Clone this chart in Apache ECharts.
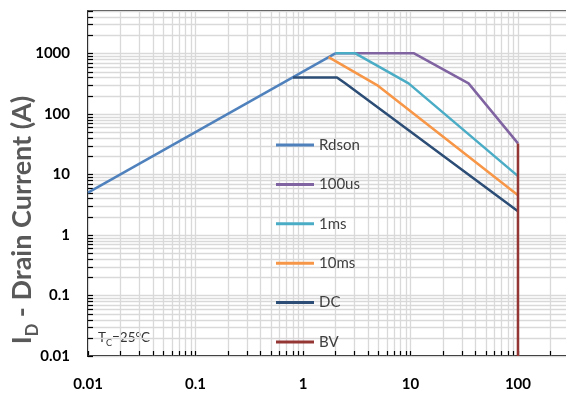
<!DOCTYPE html>
<html>
<head>
<meta charset="utf-8">
<script src="https://cdn.jsdelivr.net/npm/echarts@6/dist/echarts.min.js"></script>
<style>
html,body{margin:0;padding:0;background:#fff;}
#chart{width:566px;height:394px;}
</style>
</head>
<body>
<div id="chart"></div>
<script>
// ---- data (V in volts, I in amps) ----
const seriesNames = ['Rdson', '100us', '1ms', '10ms', 'DC', 'BV'];
const rdson = [[0.01, 5], [2, 1000]];
const us100 = [[2, 1000], [10.8, 1000], [34.7, 319], [100, 32.5]];
const ms1 = [[2, 1000], [3.07, 1000], [9.6, 319], [100, 9.36]];
const ms10 = [[1.73, 865], [4.88, 299], [100, 4.54]];
const dc = [[0.807, 400], [2.07, 400], [2.47, 319], [100, 2.47]];
const bv = [[100, 32.5], [100, 0.01]];
const seriesColors = ['#4F81BD', '#8064A2', '#4BACC6', '#F79646', '#2C4D75', '#943634'];
const xTicks = [0.01, 0.1, 1, 10, 100];
const yTicks = [0.01, 0.1, 1, 10, 100, 1000];
const xMin = 0.01, xMax = 292, yMin = 0.01, yMax = 5000;

// grid/tick positions (axis structure): decades times 1..9
function decadeLines(majors, lo, hi) {
  const out = [];
  majors.forEach(function (m) {
    for (let k = 1; k <= 9; k++) {
      const v = Number((m * k).toPrecision(6));
      if (v >= lo && v <= hi) out.push(v);
    }
  });
  return out;
}
const xLines = decadeLines(xTicks, xMin, xMax);
const yLines = decadeLines(yTicks, yMin, yMax);
const gridData = [];
xLines.forEach(function (v) { gridData.push([v, 1, 0]); });
yLines.forEach(function (v) { gridData.push([1, v, 1]); });

function fmt(v) {
  const l = Math.log10(v);
  if (Math.abs(l - Math.round(l)) > 1e-6) return '';
  return String(Number(v.toPrecision(6)));
}

const chart = echarts.init(document.getElementById('chart'), null, {renderer: 'canvas'});
const datas = [rdson, us100, ms1, ms10, dc, bv];
const lineSeries = datas.map(function (d, i) {
  return {
    name: seriesNames[i], type: 'line', data: d, showSymbol: false, symbol: 'none',
    z: 3, animation: false,
    lineStyle: {color: seriesColors[i], width: 2.5},
    itemStyle: {color: seriesColors[i]}
  };
});

const option = {
  animation: false,
  grid: {left: 88, right: -2, top: 11, bottom: 38, show: true, borderColor: '#000', borderWidth: 1.5, backgroundColor: 'transparent', outerBoundsMode: 'none', containLabel: false},
  xAxis: {
    type: 'log', logBase: 10, min: xMin, max: xMax,
    axisLine: {lineStyle: {color: '#000', width: 1.5}},
    axisTick: {show: false},
    splitLine: {show: false},
    axisLabel: {formatter: fmt, fontFamily: 'Lato', fontWeight: 'bold', fontSize: 15, color: '#000', margin: 21, showMaxLabel: false}
  },
  yAxis: {
    type: 'log', logBase: 10, min: yMin, max: yMax,
    axisLine: {lineStyle: {color: '#000', width: 1.5}},
    axisTick: {show: false},
    splitLine: {show: false},
    axisLabel: {formatter: fmt, fontFamily: 'Lato', fontWeight: 'bold', fontSize: 15, color: '#000', margin: 18, showMaxLabel: false}
  },
  legend: {
    orient: 'vertical', left: 271, top: 131, padding: 5,
    icon: 'rect', itemWidth: 38, itemHeight: 3, itemGap: 21.4,
    data: seriesNames,
    textStyle: {fontFamily: 'Lato', fontSize: 15, color: '#404040', lineHeight: 18}
  },
  graphic: [
    {
      type: 'text', x: 25, y: 220, rotation: Math.PI / 2, silent: true,
      style: {
        text: '{a|I}{b|D}{a| - Drain Current (A)}',
        align: 'center', verticalAlign: 'middle',
        rich: {
          a: {fontFamily: 'Lato', fontWeight: 'bold', fontSize: 27, fill: '#595959', color: '#595959', lineHeight: 31, verticalAlign: 'top'},
          b: {fontFamily: 'Lato', fontWeight: 'bold', fontSize: 16.5, fill: '#595959', color: '#595959', lineHeight: 33, verticalAlign: 'bottom'}
        }
      }
    },
    {
      type: 'text', x: 98, y: 339, silent: true,
      style: {
        text: '{t|T}{s|C}{t|=25°C}',
        align: 'left', verticalAlign: 'middle',
        rich: {
          t: {fontFamily: 'Lato', fontSize: 13.5, fill: '#333', color: '#333', lineHeight: 15, verticalAlign: 'top'},
          s: {fontFamily: 'Lato', fontSize: 9, fill: '#333', color: '#333', lineHeight: 17, verticalAlign: 'bottom'}
        }
      }
    }
  ],
  series: [{
    type: 'custom', name: 'grid', z: 1, silent: true, animation: false,
    data: gridData,
    encode: {x: 0, y: 1},
    renderItem: function (params, api) {
      const cs = params.coordSys;
      const t = api.value(2);
      if (t === 0) {
        const px = Math.round(api.coord([api.value(0), 1])[0]) + 0.5;
        const b = cs.y + cs.height;
        return {type: 'group', children: [
          {type: 'line', shape: {x1: px, y1: cs.y, x2: px, y2: b}, style: {stroke: '#d9d9d9', lineWidth: 1.3}},
          {type: 'line', shape: {x1: px, y1: b, x2: px, y2: b - 5}, style: {stroke: '#000', lineWidth: 1.2}}
        ]};
      } else {
        const py = Math.round(api.coord([1, api.value(1)])[1]) + 0.5;
        return {type: 'group', children: [
          {type: 'line', shape: {x1: cs.x, y1: py, x2: cs.x + cs.width, y2: py}, style: {stroke: '#d9d9d9', lineWidth: 1.3}},
          {type: 'line', shape: {x1: cs.x, y1: py, x2: cs.x + 5, y2: py}, style: {stroke: '#000', lineWidth: 1.2}}
        ]};
      }
    }
  }].concat(lineSeries)
};
chart.setOption(option);
</script>
</body>
</html>
